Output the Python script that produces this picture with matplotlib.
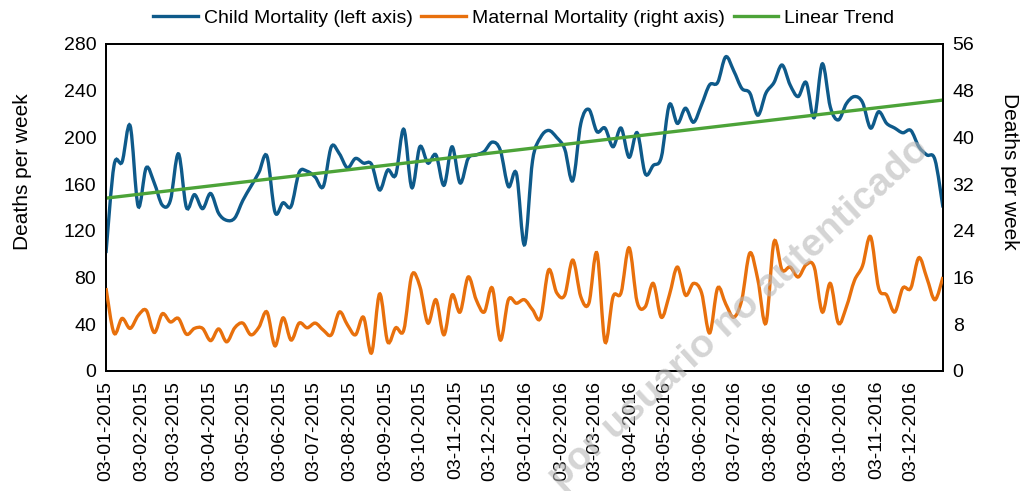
import datetime as dt
import matplotlib
matplotlib.use('Agg')
import matplotlib.pyplot as plt
import matplotlib.dates as mdates
from matplotlib.path import Path
from matplotlib.patches import PathPatch
from matplotlib.lines import Line2D
import numpy as np

plt.rcParams['font.family'] = ['Liberation Sans', 'DejaVu Sans']

# weekly data, first week 03-01-2015
start_date = dt.date(2015, 1, 3)
n_weeks = 105

child = [101, 176, 179, 210, 141, 174, 161, 142, 146, 186,
         140, 151, 139, 152, 135, 129, 131, 146, 158, 170,
         184, 136, 144, 141, 170, 171, 166, 158, 192, 186,
         174, 182, 178, 177, 155, 172, 168, 207, 157, 192,
         178, 185, 159, 192, 161, 182, 185, 188, 196, 189,
         158, 169, 108, 180, 200, 206, 200, 190, 163, 212,
         224, 205, 208, 192, 208, 183, 204, 169, 176, 183,
         228, 212, 225, 213, 228, 245, 247, 269, 257, 242,
         238, 219, 238, 247, 262, 245, 235, 247, 217, 263,
         226, 215, 229, 235, 230, 208, 222, 212, 208, 204,
         206, 192, 185, 181, 140]

maternal = [14.2, 6.5, 9.0, 7.3, 9.5, 10.4, 6.6, 9.8, 8.4, 9.0,
            6.3, 7.3, 7.3, 5.2, 7.2, 5.0, 7.4, 8.2, 6.2, 7.5,
            10.1, 4.3, 9.1, 5.3, 8.2, 7.4, 8.2, 7.0, 6.2, 10.1,
            7.9, 6.2, 9.2, 3.1, 13.2, 5.0, 7.4, 7.0, 16.4, 14.5,
            8.2, 12.2, 6.2, 13.0, 10.1, 16.1, 12.2, 10.1, 14.2, 5.3,
            12.2, 11.6, 12.2, 10.5, 9.1, 17.3, 13.4, 13.0, 19.0, 12.7,
            11.6, 20.2, 5.0, 12.7, 13.4, 21.1, 11.8, 11.0, 15.0, 9.2,
            13.0, 17.8, 13.0, 15.0, 13.4, 6.5, 14.2, 11.5, 9.2, 12.2,
            20.2, 15.6, 8.2, 22.1, 17.3, 17.8, 16.1, 18.2, 17.8, 10.1,
            15.0, 8.2, 11.0, 15.5, 18.0, 23.0, 14.2, 13.0, 10.1, 14.2,
            14.2, 19.4, 15.9, 12.2, 16.1]

trend_ends = [148, 232]

dates = [start_date + dt.timedelta(days=7 * i) for i in range(n_weeks)]
xnum = mdates.date2num(dates)

BLUE = '#0E5A8A'
ORANGE = '#E8700C'
GREEN = '#4CA338'


def smooth_path(x, y):
    # Excel-like smoothed line: cubic bezier through every point
    x = np.asarray(x, float)
    y = np.asarray(y, float)
    pts = np.column_stack([x, y])
    verts = [pts[0]]
    codes = [Path.MOVETO]
    n = len(pts)
    for i in range(n - 1):
        p0 = pts[i - 1] if i > 0 else pts[i]
        p1 = pts[i]
        p2 = pts[i + 1]
        p3 = pts[i + 2] if i + 2 < n else pts[i + 1]
        c1 = p1 + (p2 - p0) / 6.0
        c2 = p2 - (p3 - p1) / 6.0
        verts += [c1, c2, p2]
        codes += [Path.CURVE4] * 3
    return Path(verts, codes)


fig = plt.figure(figsize=(10.21, 4.91), dpi=100)
ax = fig.add_axes([0.1038, 0.2444, 0.8198, 0.666])
ax2 = ax.twinx()

ax.add_patch(PathPatch(smooth_path(xnum, child), fill=False,
                       edgecolor=BLUE, lw=2.4, zorder=3))
ax.plot([xnum[0], xnum[-1]], trend_ends, color=GREEN, lw=2.4, zorder=4)
ax2.add_patch(PathPatch(smooth_path(xnum, maternal), fill=False,
                        edgecolor=ORANGE, lw=2.4, zorder=3))

ax.set_xlim(xnum[0], xnum[-1])
ax.set_ylim(0, 280)
ax2.set_ylim(0, 56)
ax.set_yticks(range(0, 281, 40))
ax2.set_yticks(range(0, 57, 8))

ax.xaxis.set_major_locator(mdates.MonthLocator(bymonthday=3))
ax.xaxis.set_major_formatter(mdates.DateFormatter('%d-%m-%Y'))
for lab in ax.get_xticklabels():
    lab.set_rotation(90)

for a in (ax, ax2):
    a.tick_params(length=0, labelsize=14, pad=7)
    for s in a.spines.values():
        s.set_linewidth(1.3)
        s.set_color('black')

ax.set_ylabel('Deaths per week', fontsize=15, va='center')
ax.yaxis.set_label_coords(-0.1, 0.61)
ax2.set_ylabel('Deaths per week', fontsize=15, rotation=-90, va='center')
ax2.yaxis.set_label_coords(1.079, 0.61)

handles = [Line2D([], [], color=BLUE, lw=2.4),
           Line2D([], [], color=ORANGE, lw=2.4),
           Line2D([], [], color=GREEN, lw=2.4)]
labels = ['Child Mortality (left axis)', 'Maternal Mortality (right axis)', 'Linear Trend']
fig.legend(handles, labels, loc='center', bbox_to_anchor=(0.513, 0.963), ncol=3,
           frameon=False, fontsize=14, handlelength=2.3, columnspacing=0.45,
           handletextpad=0.3)

fig.text(0.724, 0.362, 'por usuario no autenticado', fontsize=28, fontweight='bold',
         color='#b8b8b8', alpha=0.6, rotation=42.4, ha='center', va='center',
         zorder=10)

fig.savefig('out.png', dpi=100)
